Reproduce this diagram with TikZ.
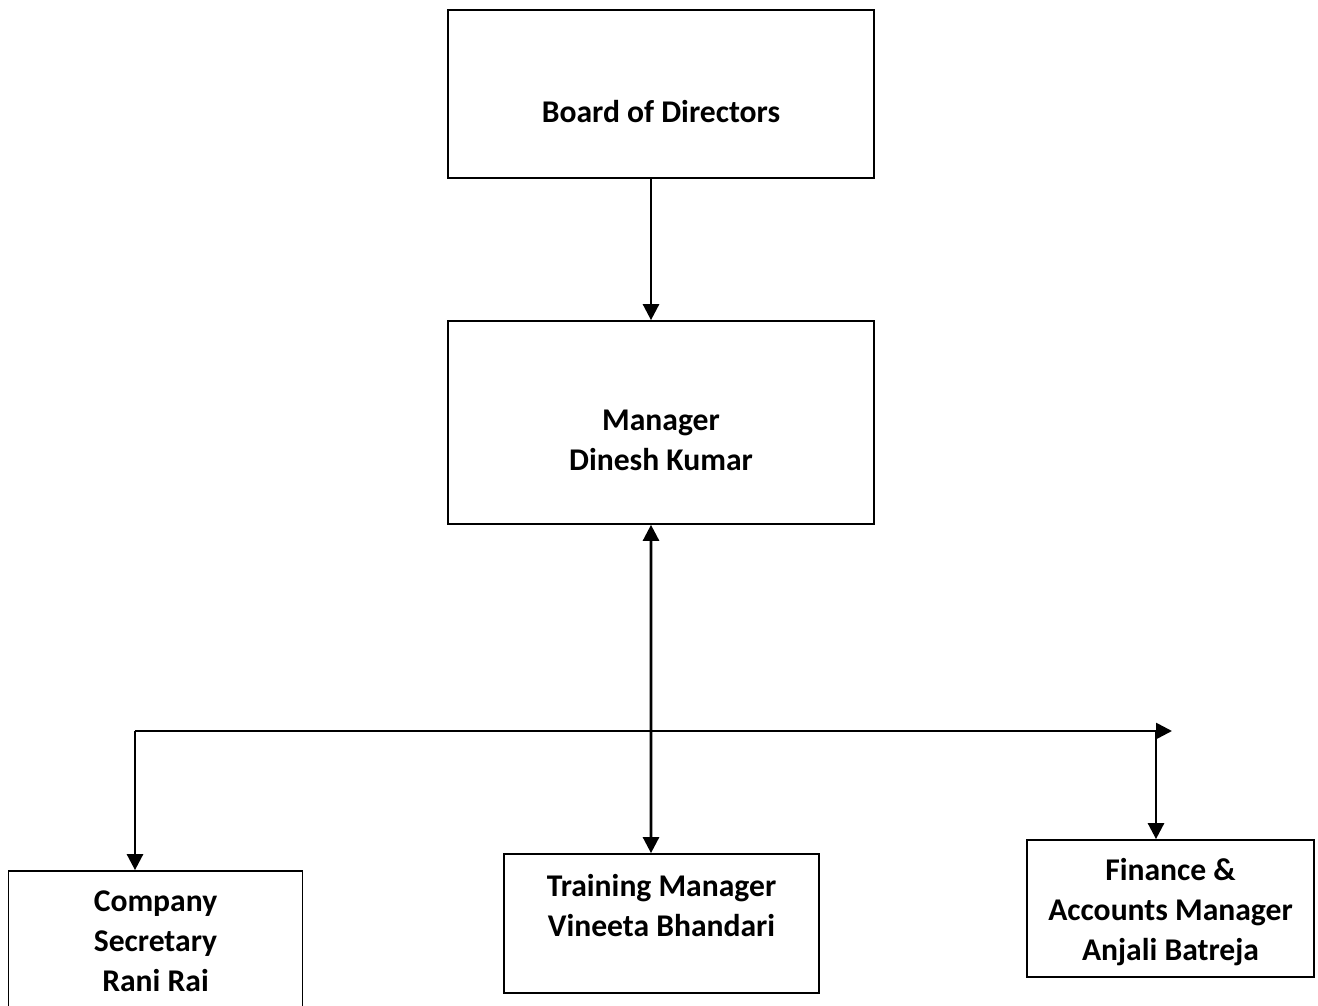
\documentclass[tikz,border=0pt]{standalone}
\usepackage{fontspec}
\setmainfont{Carlito}
\usepackage{tikz}
\usetikzlibrary{arrows.meta,calc,positioning}
\tikzset{%
	block/.style    = {draw, rectangle, line width=1pt, inner sep=0pt}, % Box
	title/.style    = {font=\bfseries\fontsize{18}{22.8}\selectfont, align=center}, % Text
	link/.style     = {line width=1.5pt, -{Triangle[length=0.32cm,width=0.32cm]}}, % Arrow
	both/.style     = {line width=1.5pt, {Triangle[length=0.32cm,width=0.32cm]}-{Triangle[length=0.32cm,width=0.32cm]}},
	waypoint/.style = {coordinate}, % Bus point
}
\begin{document}
\begin{tikzpicture}[x=0.02cm, y=-0.02cm]
	\useasboundingbox (0,0) rectangle (1318,1006);
	\node[block, minimum width=8.52cm, minimum height=3.36cm,
		label={[title, yshift=-0.36cm]center:Board of Directors}] (bod) at (661,94) {};
	\node[block, minimum width=8.52cm, minimum height=4.06cm,
		label={[title, yshift=-0.36cm]center:Manager\\Dinesh Kumar}] (mgr) at (661,422.5) {};
	\node[block, minimum width=5.88cm, minimum height=2.82cm,
		label={[title]center:Company\\Secretary\\Rani Rai}] (cs) at (155.5,941.5) {};
	\node[block, minimum width=6.30cm, minimum height=2.78cm,
		label={[title, yshift=0.36cm]center:Training Manager\\Vineeta Bhandari}] (tm) at (661.5,923.5) {};
	\node[block, minimum width=5.74cm, minimum height=2.74cm,
		label={[title, yshift=-0.07cm]center:Finance \&\\Accounts Manager\\Anjali Batreja}] (fa) at (1170.5,908.5) {};
	\node[waypoint] (busL) at (135,731) {};
	\node[waypoint] (busR) at (1172,731) {};
	\node[waypoint] (busF) at (1156,731) {};
	\draw[link] ([xshift=-0.2cm]bod.south) -- ([xshift=-0.2cm]mgr.north);
	\draw[both] ([xshift=-0.2cm]mgr.south) -- ([xshift=-0.21cm]tm.north);
	\draw[link] (busL) -- (busR);
	\draw[link] (busL) -- (busL |- cs.north);
	\draw[link] (busF) -- (busF |- fa.north);
\end{tikzpicture}
\end{document}
